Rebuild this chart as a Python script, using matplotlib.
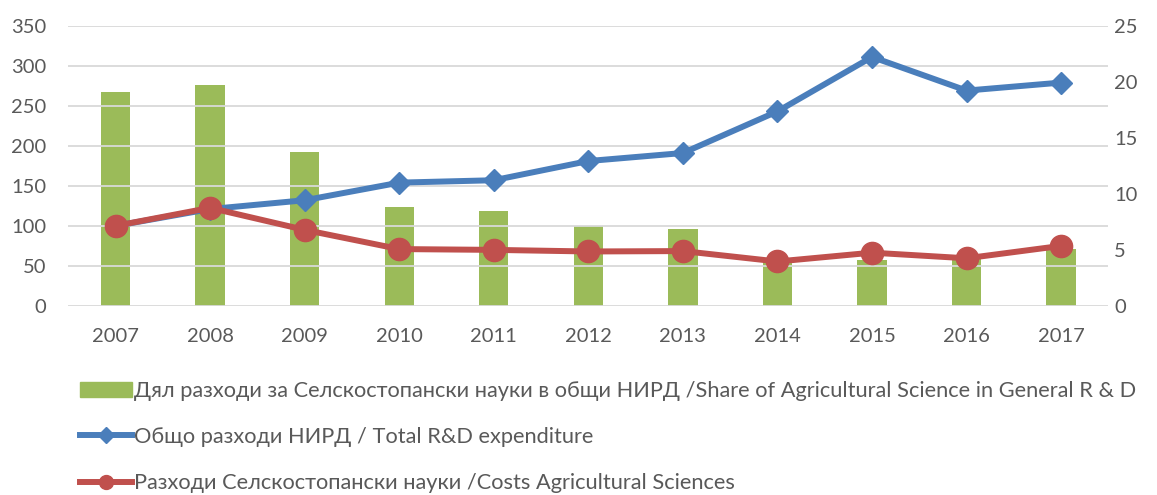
from matplotlib import pyplot as plt
from matplotlib.patches import Patch
from matplotlib.lines import Line2D

years = ['2007', '2008', '2009', '2010', '2011', '2012', '2013', '2014', '2015', '2016', '2017']
share_agri = [19.1, 19.7, 13.75, 8.85, 8.5, 7.15, 6.9, 3.95, 4.1, 4.3, 5.1]
total_rd = [100, 121, 132, 154, 157, 181, 191, 243, 311, 269, 279]
costs_agri = [100, 122.5, 95, 71, 70, 68, 68.5, 55.5, 66.5, 59.5, 75]

label_share = 'Дял разходи за Селскостопански науки в общи НИРД /Share of Agricultural Science in General R & D'
label_total = 'Общо разходи НИРД / Total R&D expenditure'
label_costs = 'Разходи Селскостопански науки /Costs Agricultural Sciences'

plt.rcParams['font.family'] = ['Lato', 'DejaVu Sans']
plt.rcParams['font.size'] = 14.5


def plot_rd_expenditure():
    """
    draws the share of agricultural science as bars and the two expenditure lines.
    """
    fig = plt.figure(figsize=(11.57, 4.95), dpi=100)
    ax = fig.add_axes([0.059, 0.382, 0.899, 0.566])
    positions = range(len(years))

    # bars on the right axis
    ax2 = ax.twinx()
    ax2.bar(positions, share_agri, width=0.31, color='#9BBB59')
    ax2.set_ylim(0, 25)
    ax2.set_yticks(range(0, 26, 5))

    # lines on the left axis
    ax.plot(positions, total_rd, color='#4A7EBB', linewidth=4.3, marker='D', markersize=11)
    ax.plot(positions, costs_agri, color='#C0504D', linewidth=4.3, marker='o', markersize=16)
    ax.set_ylim(0, 350)
    ax.set_yticks(range(0, 351, 50))
    ax.set_xlim(-0.5, len(years) - 0.5)
    ax.set_xticks(list(positions))
    ax.set_xticklabels(years)
    ax.grid(True, axis='y', color='#D9D9D9', linewidth=1.3)
    ax.set_axisbelow(True)

    ax.set_zorder(ax2.get_zorder() + 1)
    ax.patch.set_visible(False)
    ax2.grid(False)

    for a in (ax, ax2):
        for spine in a.spines.values():
            spine.set_visible(False)
        a.tick_params(length=0, colors='#595959', labelsize=14.5)
    ax.tick_params(axis='x', pad=16)
    ax.tick_params(axis='y', pad=16)
    ax2.tick_params(axis='y', pad=4)

    handles = [
        Patch(color='#9BBB59'),
        Line2D([], [], color='#4A7EBB', linewidth=4.3, marker='D', markersize=8),
        Line2D([], [], color='#C0504D', linewidth=4.3, marker='o', markersize=10),
    ]
    legend = fig.legend(handles, [label_share, label_total, label_costs], loc='upper left',
                        bbox_to_anchor=(0.062, 0.248), frameon=False, labelspacing=1.2,
                        handlelength=2.35, handletextpad=0.1, borderaxespad=0,
                        prop={'size': 15.7})
    for text in legend.get_texts():
        text.set_color('#595959')

    plt.savefig('out.png', dpi=100)


plot_rd_expenditure()
